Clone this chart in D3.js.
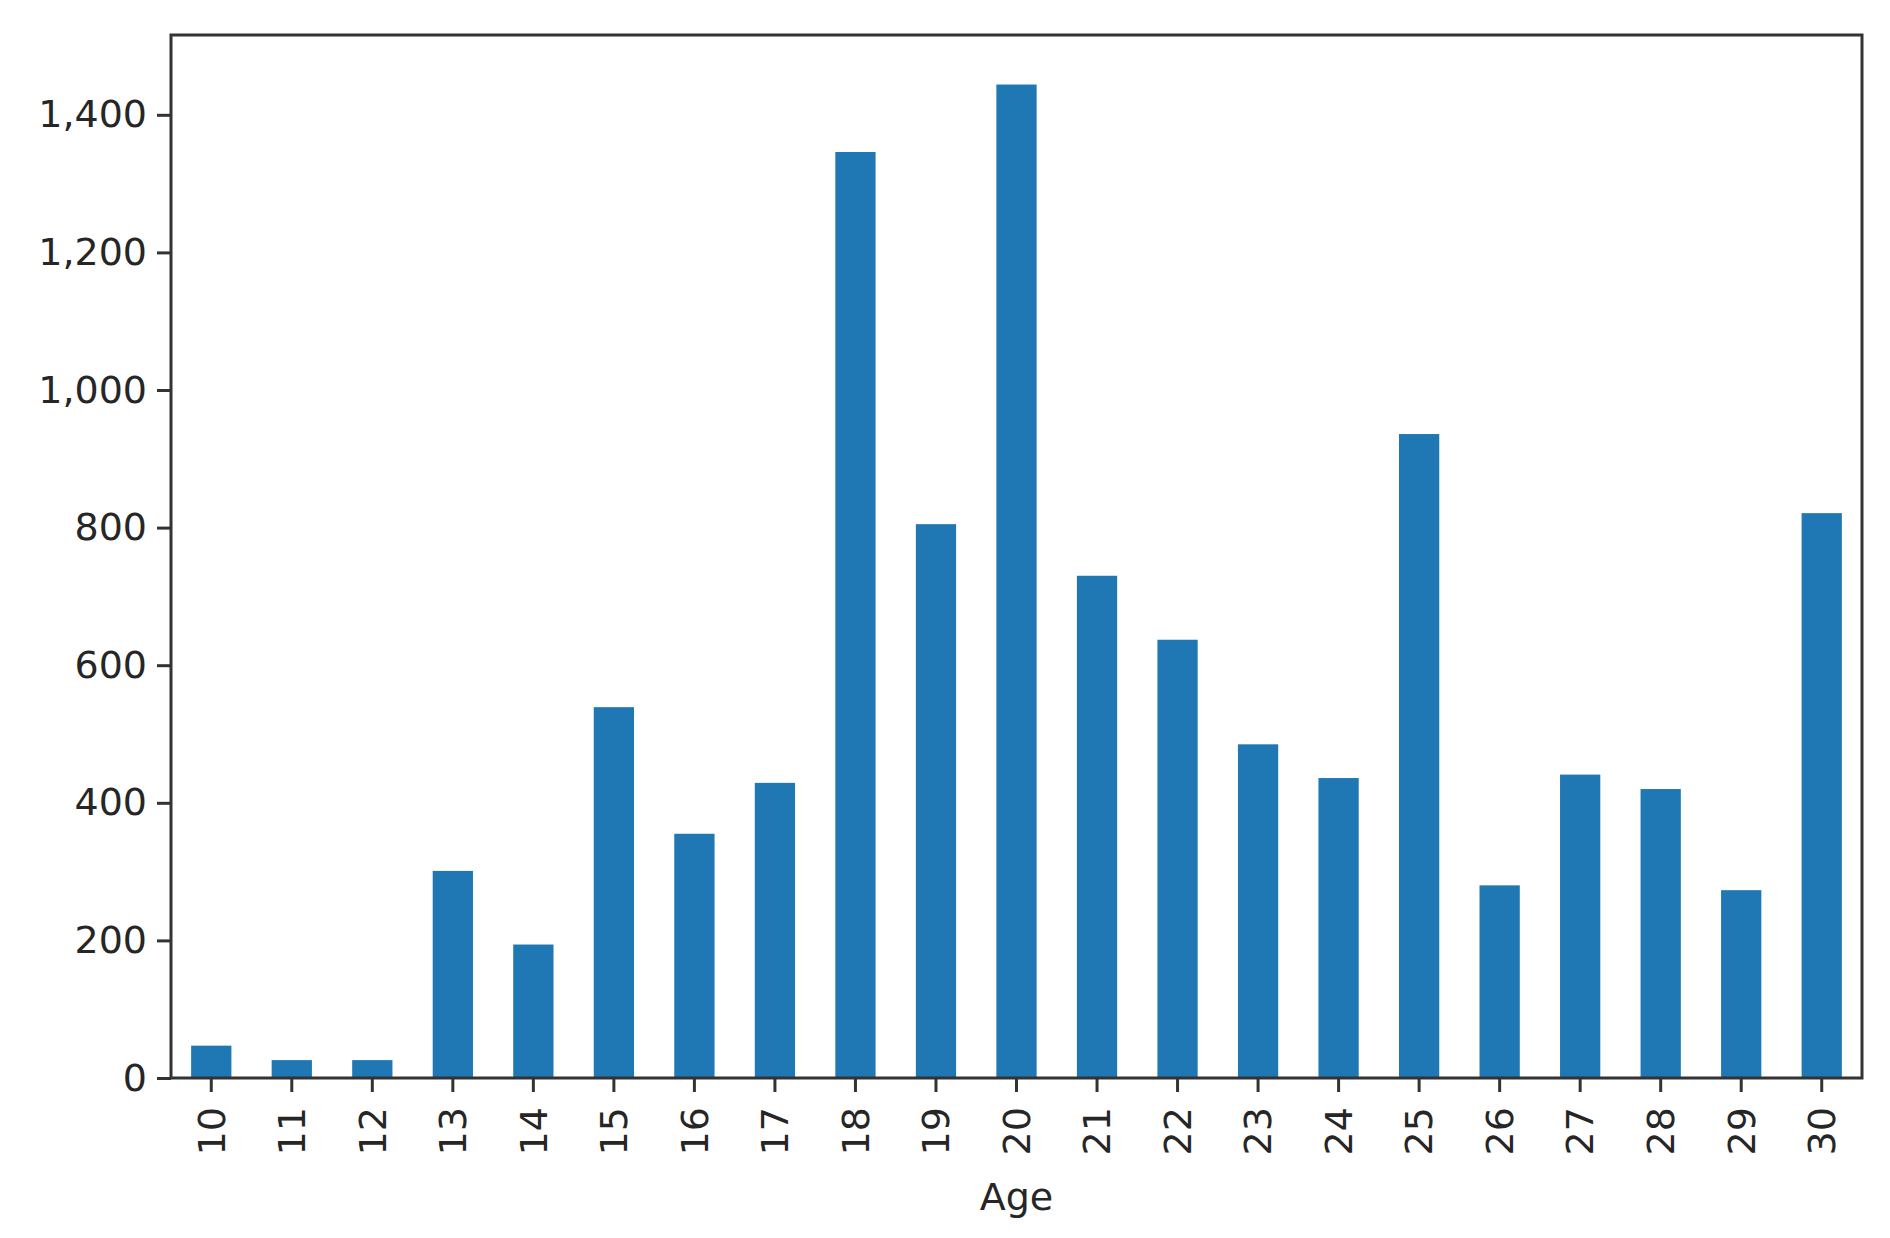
<!DOCTYPE html>
<html><head><meta charset="utf-8">
<script src="https://cdn.jsdelivr.net/npm/d3@7"></script>
<style>body{margin:0;background:#fff}text{font-family:"DejaVu Sans",sans-serif;fill:#262626}</style>
</head><body><svg id="c" width="1890" height="1238"></svg>
<script>
const ages=["10","11","12","13","14","15","16","17","18","19","20","21","22","23","24","25","26","27","28","29","30"];
const counts=[47,26,26,301,194,539,355,429,1346,805,1444,730,637,485,436,936,280,441,420,273,821];
const yTicks=[0,200,400,600,800,1000,1200,1400];
const m={l:171,t:35,r:1862,b:1078};
const svg=d3.select("#c");
const x=d3.scaleBand().domain(ages).range([m.l,m.r]).paddingInner(0.5).paddingOuter(0.25);
const y=d3.scaleLinear().domain([0,1516]).range([m.b,m.t]);
svg.selectAll("rect.b").data(counts).join("rect").attr("class","b")
 .attr("x",(d,i)=>x(ages[i])).attr("width",x.bandwidth())
 .attr("y",d=>y(d)).attr("height",d=>y(0)-y(d)).attr("fill","#1f77b4");
const ya=svg.append("g").attr("transform",`translate(${m.l},0)`).call(d3.axisLeft(y).tickValues(yTicks).tickSize(14).tickPadding(10));
ya.selectAll("text").attr("font-size",38);
const xa=svg.append("g").attr("transform",`translate(0,${m.b})`).call(d3.axisBottom(x).tickSize(14).tickPadding(10));
xa.selectAll("text").attr("font-size",38).attr("transform","rotate(-90)").attr("text-anchor","end").attr("dx","-0.4em").attr("dy","0.35em").attr("x",-14).attr("y",0);
svg.selectAll(".domain").remove();
svg.selectAll(".tick line").attr("stroke","#333").attr("stroke-width",3);
svg.append("rect").attr("x",m.l).attr("y",m.t).attr("width",m.r-m.l).attr("height",m.b-m.t).attr("fill","none").attr("stroke","#333").attr("stroke-width",3);
svg.append("text").attr("x",(m.l+m.r)/2).attr("y",1210).attr("text-anchor","middle").attr("font-size",38).text("Age");
</script></body></html>
